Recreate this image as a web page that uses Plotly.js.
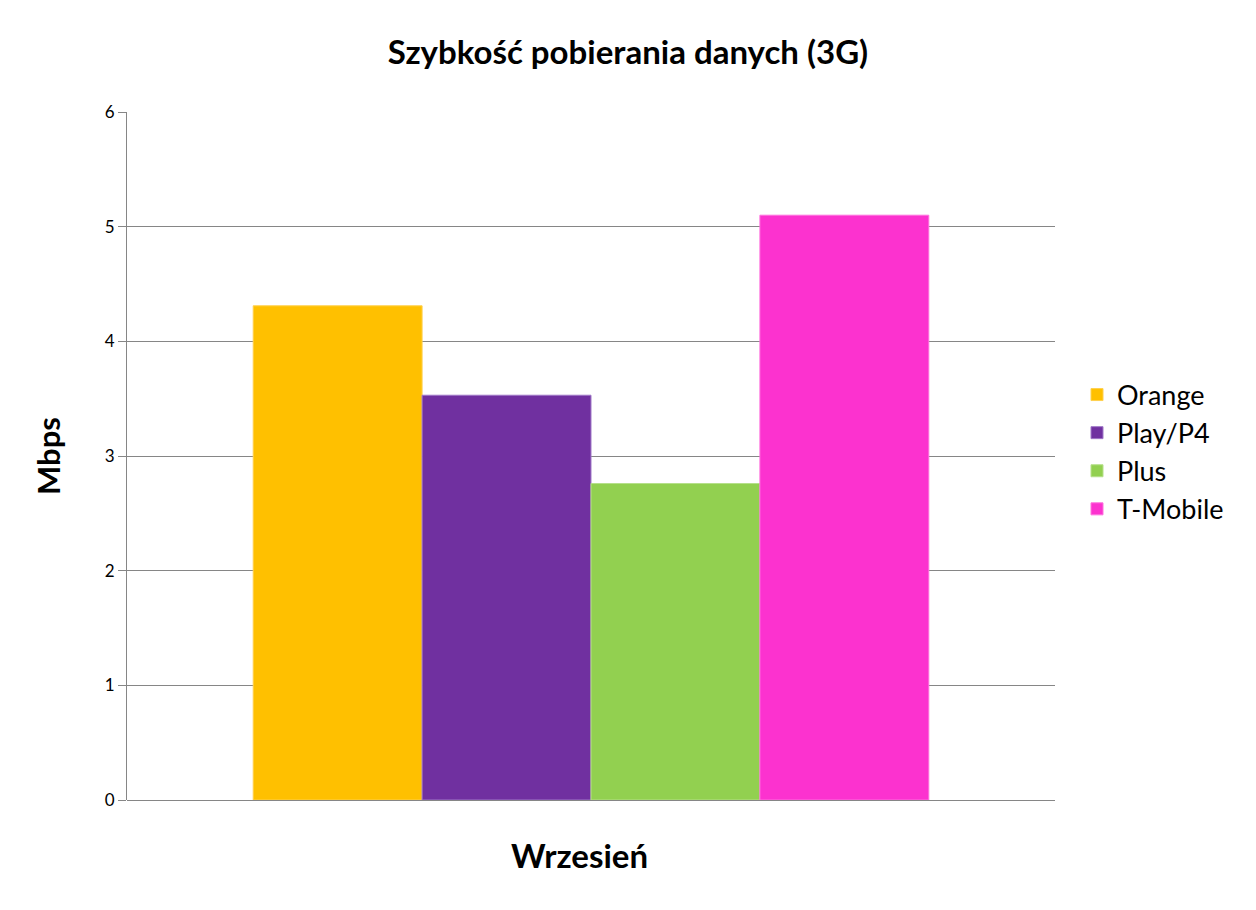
<!DOCTYPE html>
<html>
<head>
<meta charset="utf-8">
<script src="https://cdn.plot.ly/plotly-3.0.1.min.js"></script>
<style>html,body{margin:0;padding:0;background:#fff;}#chart{width:1256px;height:910px;}</style>
</head>
<body>
<div id="chart"></div>
<script>
const categories = ["Wrzesień"];
const operators = ["Orange", "Play/P4", "Plus", "T-Mobile"];
const speeds = [4.31, 3.53, 2.76, 5.10];
const colors = ["#FFC000", "#7030A0", "#92D050", "#FC32CF"];
const edgeColors = ["#FFD04F", "#A078C8", "#B6E08A", "#FF70DE"];
const yTicks = [0, 1, 2, 3, 4, 5, 6];

const FONT = "Lato, 'Open Sans', sans-serif";

const traces = operators.map((name, i) => ({
  type: "bar",
  name: name,
  x: categories,
  y: [speeds[i]],
  marker: { color: colors[i], line: { color: edgeColors[i], width: 1 } },
  hoverinfo: "name+y"
}));

const layout = {
  width: 1256,
  height: 910,
  paper_bgcolor: "#fff",
  plot_bgcolor: "#fff",
  margin: { l: 127, r: 201, t: 112, b: 110 },
  font: { family: FONT, color: "#000" },
  title: {
    text: "<b>Szybkość pobierania danych (3G)</b>",
    font: { family: FONT, size: 33, color: "#000" },
    x: 0.5, xanchor: "center",
    y: 1 - 52 / 910, yref: "container", yanchor: "middle"
  },
  barmode: "group",
  bargap: 0.272,
  bargroupgap: 0,
  xaxis: {
    showticklabels: false,
    ticks: "",
    showgrid: false,
    showline: false,
    zeroline: false
  },
  annotations: [{
    text: "<b>" + categories[0] + "</b>",
    xref: "paper", yref: "paper",
    x: (579 - 127) / 928, xanchor: "center",
    y: -(855 - 800) / 688, yanchor: "middle",
    showarrow: false,
    font: { family: FONT, size: 33, color: "#000" }
  }],
  yaxis: {
    range: [0, 6],
    tickvals: yTicks,
    ticktext: yTicks.map(String),
    ticks: "outside",
    ticklen: 8,
    tickcolor: "#868686",
    tickfont: { family: FONT, size: 17, color: "#000" },
    showgrid: true,
    gridcolor: "#868686",
    gridwidth: 1,
    showline: true,
    linecolor: "#868686",
    linewidth: 1,
    zeroline: true,
    zerolinecolor: "#868686",
    zerolinewidth: 1,
    title: { text: "<b>Mbps</b>", font: { family: FONT, size: 31, color: "#000" }, standoff: 34 }
  },
  showlegend: true,
  legend: {
    x: (1077 - 127) / 928, xanchor: "left",
    y: (800 - 452) / 688, yanchor: "middle",
    font: { family: FONT, size: 27, color: "#000" },
    bgcolor: "rgba(0,0,0,0)",
    itemwidth: 30,
    tracegroupgap: 0
  }
};

Plotly.newPlot("chart", traces, layout, { displayModeBar: false, staticPlot: true });
</script>
</body>
</html>
